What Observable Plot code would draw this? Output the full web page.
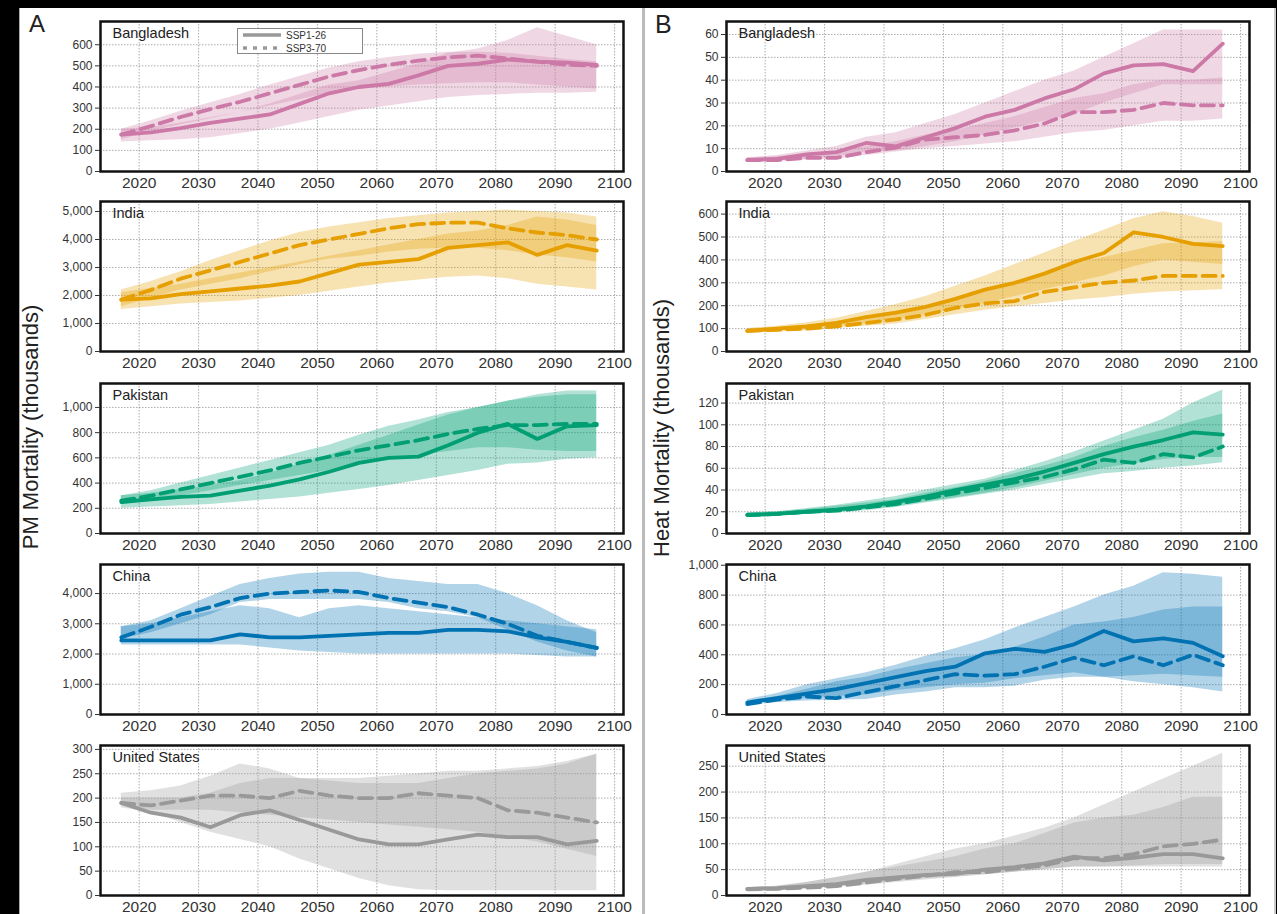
<!DOCTYPE html>
<html><head><meta charset="utf-8">
<script src="https://cdn.jsdelivr.net/npm/d3@7"></script>
<script src="https://cdn.jsdelivr.net/npm/@observablehq/plot@0.6"></script>
<style>
body{margin:0;background:#000;width:1277px;height:914px;overflow:hidden;position:relative;font-family:"Liberation Sans",Arial,sans-serif;}
.col{position:absolute;top:8px;height:906px;background:#fff;}
.lbl{position:absolute;color:#222;white-space:nowrap;}
.ytitle{position:absolute;font-size:22px;color:#222;white-space:nowrap;transform:translate(-50%,-50%) rotate(-90deg);}
.pl{position:absolute;}
.legend{position:absolute;left:237px;top:28px;width:124px;height:24px;border:1px solid #888;background:#fff;font-size:10px;color:#333;}
</style></head><body>
<div class="col" style="left:19px;width:632px;border-left:1px solid #aaa;"></div>
<div class="col" style="left:642px;width:629px;border-left:3px solid #bbb;border-right:2px solid #ccc;"></div>
<div class="lbl" style="left:29px;top:10px;font-size:24px;">A</div>
<div class="lbl" style="left:655px;top:10px;font-size:25px;">B</div>
<div class="ytitle" style="left:31px;top:427px;">PM Mortality (thousands)</div>
<div class="ytitle" style="left:662px;top:428px;">Heat Mortality (thousands)</div>
<div id="root"></div>
<script>
const years = [2017,2022,2027,2032,2037,2042,2047,2052,2057,2062,2067,2072,2077,2082,2087,2092,2097];
const countries = ["Bangladesh","India","Pakistan","China","United States"];
const colors = ["#CC79A7","#E69F00","#009E73","#0072B2","#999999"];
const scenarios = ["SSP1-26","SSP3-70"];
const xTicks = [2020,2030,2040,2050,2060,2070,2080,2090,2100];

// ---- PM mortality (thousands) ----
const pmBgd126 = [175,185,205,230,250,270,320,370,400,415,455,500,510,530,520,515,505];
const pmBgd126Lo = [140,145,150,160,180,200,230,260,290,310,330,350,360,365,370,370,375];
const pmBgd126Hi = [200,210,230,255,280,320,365,410,430,470,510,560,580,620,680,640,600];
const pmBgd370 = [175,215,258,295,330,370,410,450,480,505,525,540,548,535,520,505,500];
const pmBgd370Lo = [150,190,220,250,280,310,340,370,390,400,410,415,420,420,410,400,390];
const pmBgd370Hi = [200,240,285,325,365,410,450,490,520,540,555,565,565,560,545,530,520];

const pmInd126 = [1850,1900,2050,2150,2250,2350,2500,2800,3100,3200,3300,3700,3800,3900,3450,3800,3600];
const pmInd126Lo = [1500,1600,1700,1750,1800,1900,2000,2150,2300,2450,2550,2650,2700,2600,2400,2300,2200];
const pmInd126Hi = [2100,2250,2400,2600,2800,3000,3200,3400,3600,3800,4000,4200,4300,4500,4800,4700,4500];
const pmInd370 = [1850,2200,2600,2900,3200,3500,3800,4000,4200,4400,4550,4600,4600,4400,4250,4150,4000];
const pmInd370Lo = [1600,1900,2200,2400,2600,2850,3100,3300,3400,3550,3650,3700,3700,3600,3450,3350,3200];
const pmInd370Hi = [2200,2500,2850,3250,3600,3950,4250,4450,4600,4750,4850,4950,5000,5050,5000,4950,4800];

const pmPak126 = [250,270,290,300,340,380,430,490,560,600,610,700,800,870,750,850,860];
const pmPak126Lo = [200,210,220,230,250,270,290,320,350,380,420,460,500,550,560,590,600];
const pmPak126Hi = [300,320,350,380,420,480,550,620,700,780,860,940,1000,1050,1080,1100,1100];
const pmPak370 = [260,300,350,400,450,500,560,610,660,700,740,790,830,860,860,870,870];
const pmPak370Lo = [230,260,300,340,380,420,460,500,550,590,620,650,680,680,660,650,650];
const pmPak370Hi = [300,340,400,460,520,580,640,700,780,850,900,960,1000,1050,1100,1130,1130];

const pmChn126 = [2450,2450,2450,2450,2650,2550,2550,2600,2650,2700,2700,2800,2800,2750,2550,2400,2200];
const pmChn126Lo = [2300,2300,2300,2300,2300,2200,2100,2050,2000,2000,2000,2000,2000,2000,1950,1900,1900];
const pmChn126Hi = [2900,3000,3200,3400,3600,3500,3200,3500,3600,3500,3400,3300,3200,3100,3000,2900,2800];
const pmChn370 = [2550,2900,3300,3550,3850,4000,4050,4100,4050,3850,3700,3550,3300,3000,2600,2400,2200];
const pmChn370Lo = [2500,2700,3000,3300,3700,3800,3800,3800,3800,3700,3500,3400,3200,2800,2400,2100,1900];
const pmChn370Hi = [2900,3100,3500,3900,4300,4500,4650,4700,4700,4500,4400,4300,4300,4000,3600,3100,2700];

const pmUsa126 = [190,170,160,140,165,175,155,135,115,105,105,115,125,120,120,105,112];
const pmUsa126Lo = [180,170,150,130,115,100,75,55,35,20,12,10,10,10,10,10,10];
const pmUsa126Hi = [200,200,200,210,230,240,240,235,230,230,230,240,250,255,260,270,290];
const pmUsa370 = [190,185,195,205,205,200,215,205,200,200,210,205,200,175,170,160,150];
const pmUsa370Lo = [185,175,175,175,170,165,160,155,150,145,140,135,130,120,110,95,80];
const pmUsa370Hi = [210,215,225,245,270,260,240,240,240,245,250,255,255,260,265,275,290];

// ---- Heat mortality (thousands) ----
const htBgd126 = [5,5.5,7.5,8.5,12.5,11,15,19,24,27,32,36,43,46.5,47,44,56];
const htBgd126Lo = [4,4.5,5.5,6.5,8.5,9,11,13,16,19,22,25,30,34,38,38,38];
const htBgd126Hi = [6,7,9,11,15,17,21,25,30,35,40,44,50,56,62,62,62];
const htBgd370 = [5,5,6,6,8.5,10.5,14,15,16,18,21,26,26,27,30,29,29];
const htBgd370Lo = [4,4.5,5,5.5,7,8.5,10,11,12,13,15,17,18,20,22,22,23];
const htBgd370Hi = [6,6.5,7.5,8.5,11,13,16,18,21,24,28,32,34,38,40,40,41];

const htInd126 = [90,100,110,125,150,170,195,230,270,300,340,390,430,520,500,470,460];
const htInd126Lo = [80,90,100,110,120,140,160,185,210,240,270,300,330,370,400,390,380];
const htInd126Hi = [100,110,125,145,175,205,240,285,330,380,430,480,530,580,610,590,560];
const htInd370 = [90,95,100,110,125,140,160,190,210,220,260,280,300,310,330,330,330];
const htInd370Lo = [80,85,90,100,110,120,140,160,180,195,210,225,235,250,260,265,270];
const htInd370Hi = [100,105,115,130,150,170,195,225,260,300,340,380,410,440,470,475,480];

const htPak126 = [17,18,20,22,25,29,34,40,45,50,57,65,73,80,86,93,91];
const htPak126Lo = [15,16,18,20,22,25,29,33,37,42,48,54,60,64,68,70,70];
const htPak126Hi = [19,20,23,26,30,34,40,45,50,58,66,75,85,95,105,120,132];
const htPak370 = [17,18,20,21,24,27,32,37,42,47,52,59,68,65,73,70,80];
const htPak370Lo = [15,16,18,19,21,24,28,32,36,40,45,50,55,57,60,62,65];
const htPak370Hi = [19,20,22,25,28,31,37,42,48,55,62,70,80,88,95,103,110];

const htChn126 = [80,110,140,170,210,250,290,320,410,440,420,470,560,490,510,480,390];
const htChn126Lo = [70,90,110,120,130,160,180,200,210,240,260,280,250,220,200,180,150];
const htChn126Hi = [100,140,200,240,280,330,390,440,500,580,650,720,800,860,950,940,920];
const htChn370 = [70,100,120,110,150,190,230,270,260,270,320,380,330,390,330,400,330];
const htChn370Lo = [60,80,90,95,100,130,150,180,180,190,230,250,250,260,270,260,250];
const htChn370Hi = [90,120,170,220,250,300,340,380,400,450,520,600,620,650,700,720,720];

const htUsa126 = [13,14,18,22,30,35,40,42,50,55,62,75,68,73,80,80,72];
const htUsa126Lo = [10,12,14,17,22,27,33,36,40,45,50,55,55,55,55,55,55];
const htUsa126Hi = [15,18,25,35,45,55,65,75,90,100,120,140,150,155,170,190,190];
const htUsa370 = [12,13,15,18,25,32,38,45,45,52,58,72,72,80,95,100,108];
const htUsa370Lo = [10,11,13,16,20,25,30,35,40,45,50,55,55,57,60,60,60];
const htUsa370Hi = [15,18,25,35,45,60,75,90,100,115,130,150,175,200,225,250,275];

// tick values per panel
const pmTicks = [
  [0,100,200,300,400,500,600],
  [0,1000,2000,3000,4000,5000],
  [0,200,400,600,800,1000],
  [0,1000,2000,3000,4000],
  [0,50,100,150,200,250,300]
];
const htTicks = [
  [0,10,20,30,40,50,60],
  [0,100,200,300,400,500,600],
  [0,20,40,60,80,100,120],
  [0,200,400,600,800,1000],
  [0,50,100,150,200,250]
];
const pmYMax = [710,5357,1190,4960,308];
const htYMax = [65.7,655,138,1005,290];

const pmSeries = [
  [pmBgd126,pmBgd126Lo,pmBgd126Hi,pmBgd370,pmBgd370Lo,pmBgd370Hi],
  [pmInd126,pmInd126Lo,pmInd126Hi,pmInd370,pmInd370Lo,pmInd370Hi],
  [pmPak126,pmPak126Lo,pmPak126Hi,pmPak370,pmPak370Lo,pmPak370Hi],
  [pmChn126,pmChn126Lo,pmChn126Hi,pmChn370,pmChn370Lo,pmChn370Hi],
  [pmUsa126,pmUsa126Lo,pmUsa126Hi,pmUsa370,pmUsa370Lo,pmUsa370Hi]
];
const htSeries = [
  [htBgd126,htBgd126Lo,htBgd126Hi,htBgd370,htBgd370Lo,htBgd370Hi],
  [htInd126,htInd126Lo,htInd126Hi,htInd370,htInd370Lo,htInd370Hi],
  [htPak126,htPak126Lo,htPak126Hi,htPak370,htPak370Lo,htPak370Hi],
  [htChn126,htChn126Lo,htChn126Hi,htChn370,htChn370Lo,htChn370Hi],
  [htUsa126,htUsa126Lo,htUsa126Hi,htUsa370,htUsa370Lo,htUsa370Hi]
];

const frameTops = [21,201,383,564,745];
const FRAME_H = 150, MT = 6, MB = 30;
const root = document.getElementById("root");
const narrow = '"Liberation Sans Narrow","Arial Narrow","Liberation Sans",sans-serif';

function makePanel(series, ticks, yMax, ci, left, width, mL, mR, top) {
  const [m1,l1,h1,m3,l3,h3] = series;
  const rows = years.map((yr,i)=>({year:yr,m1:m1[i],l1:l1[i],h1:h1[i],m3:m3[i],l3:l3[i],h3:h3[i]}));
  const c = colors[ci];
  const p = Plot.plot({
    width, height: FRAME_H+MT+MB,
    marginLeft: mL, marginRight: mR, marginTop: MT, marginBottom: MB,
    style: "background:transparent;overflow:visible;color:#333;font-family:'Liberation Sans',Arial,sans-serif;",
    x: {domain:[2013.5,2101.5], axis:null},
    y: {domain:[0,yMax], axis:null},
    marks: [
      Plot.gridX(xTicks, {stroke:"#8a8a8a", strokeOpacity:0.7, strokeDasharray:"1.5,1.5"}),
      Plot.gridY(ticks, {stroke:"#8a8a8a", strokeOpacity:0.7, strokeDasharray:"1.5,1.5"}),
      Plot.areaY(rows, {x:"year", y1:"l1", y2:"h1", fill:c, fillOpacity:0.3, curve:"linear"}),
      Plot.areaY(rows, {x:"year", y1:"l3", y2:"h3", fill:c, fillOpacity:0.3, curve:"linear"}),
      Plot.lineY(rows, {x:"year", y:"m3", stroke:c, strokeWidth:3.8, strokeDasharray:"13,7"}),
      Plot.lineY(rows, {x:"year", y:"m1", stroke:c, strokeWidth:3.8}),
      Plot.frame({stroke:"#111", strokeWidth:2.5}),
      Plot.axisY(ticks, {tickSize:5, tickPadding:3, tickFormat:d3.format(","), fontSize:12, fontFamily:narrow, label:null}),
      Plot.axisX(xTicks, {tickSize:0, tickPadding:5, tickFormat:d=>String(d), fontSize:15.5, label:null}),
      Plot.text([countries[ci]], {frameAnchor:"top-left", text:d=>d, dx:12, dy:6, fontSize:14.5, fill:"#222"})
    ]
  });
  p.classList.add("pl");
  p.style.position = "absolute";
  p.style.left = left + "px";
  p.style.top = (top - MT) + "px";
  root.appendChild(p);
}

for (let i = 0; i < 5; i++) {
  makePanel(pmSeries[i], pmTicks[i], pmYMax[i], i, 0, 640, 100, 17, frameTops[i]);
  makePanel(htSeries[i], htTicks[i], htYMax[i], i, 640, 632, 86, 23, frameTops[i]);
}

// legend (panel A, Bangladesh)
const lg = document.createElement("div");
lg.className = "legend";
lg.innerHTML = `<svg width="124" height="24" style="position:absolute;left:0;top:0">
  <line x1="5" x2="43" y1="6" y2="6" stroke="#999" stroke-width="3.5"/>
  <line x1="5" x2="43" y1="19" y2="19" stroke="#999" stroke-width="3.5" stroke-dasharray="4,6"/>
  <text x="48" y="9.5" font-size="10" fill="#333">${scenarios[0]}</text>
  <text x="48" y="22.5" font-size="10" fill="#333">${scenarios[1]}</text>
</svg>`;
document.body.appendChild(lg);
</script>
</body></html>
